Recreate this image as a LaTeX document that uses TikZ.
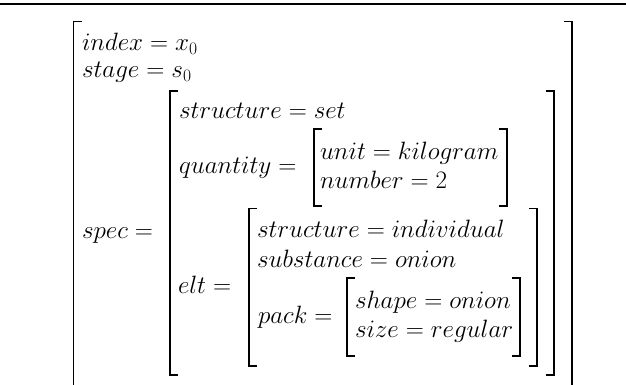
\RequirePackage{fix-cm}
\documentclass[tikz,border=0pt]{standalone}
\tikzset{
  avm/.style={anchor=base west, inner sep=0pt, outer sep=0pt, font=\fontsize{25.1}{30}\selectfont},
  brk/.style={line width=1.4pt, line cap=butt, line join=miter},
  rulebar/.style={line width=1.4pt}
}
\begin{document}
\begin{tikzpicture}[x=1pt, y=-1pt]
\useasboundingbox (0,0) rectangle (626,385);
\clip (0,0) rectangle (626,385);
% top rule
\coordinate (rl) at (0,4);
\coordinate (rr) at (626,4);
\draw[rulebar] (rl) -- (rr);
% texts
\node[avm] (index) at (82,51) {$index = x_0$};
\node[avm] (stage) at (82,78) {$stage = s_0$};
\node[avm] (spec) at (82,238.5) {$spec =$};
\node[avm] (struct1) at (179,119) {$structure = set$};
\node[avm] (quant) at (179,173.5) {$quantity =$};
\node[avm] (unit) at (320,159) {$unit = kilogram$};
\node[avm] (number) at (320,188) {$number = 2$};
\node[avm] (elt) at (178,293.5) {$elt =$};
\node[avm] (struct2) at (257,237.5) {$structure = individual$};
\node[avm] (subst) at (257,267) {$substance = onion$};
\node[avm] (pack) at (258,323) {$pack =$};
\node[avm] (shape) at (355,308.5) {$shape = onion$};
\node[avm] (size) at (355,337.5) {$size = regular$};
% brackets: left x, right x, top, bottom
\foreach \l/\r/\t/\b in {73.5/572/21.7/400, 170/554/91/375, 314/507/129/206, 249/537/208.5/366, 347/520/278/356}{
  \draw[brk] (\l+8,\t) -- (\l,\t) -- (\l,\b) -- (\l+8,\b);
  \draw[brk] (\r-8,\t) -- (\r,\t) -- (\r,\b) -- (\r-8,\b);
}
\end{tikzpicture}
\end{document}
